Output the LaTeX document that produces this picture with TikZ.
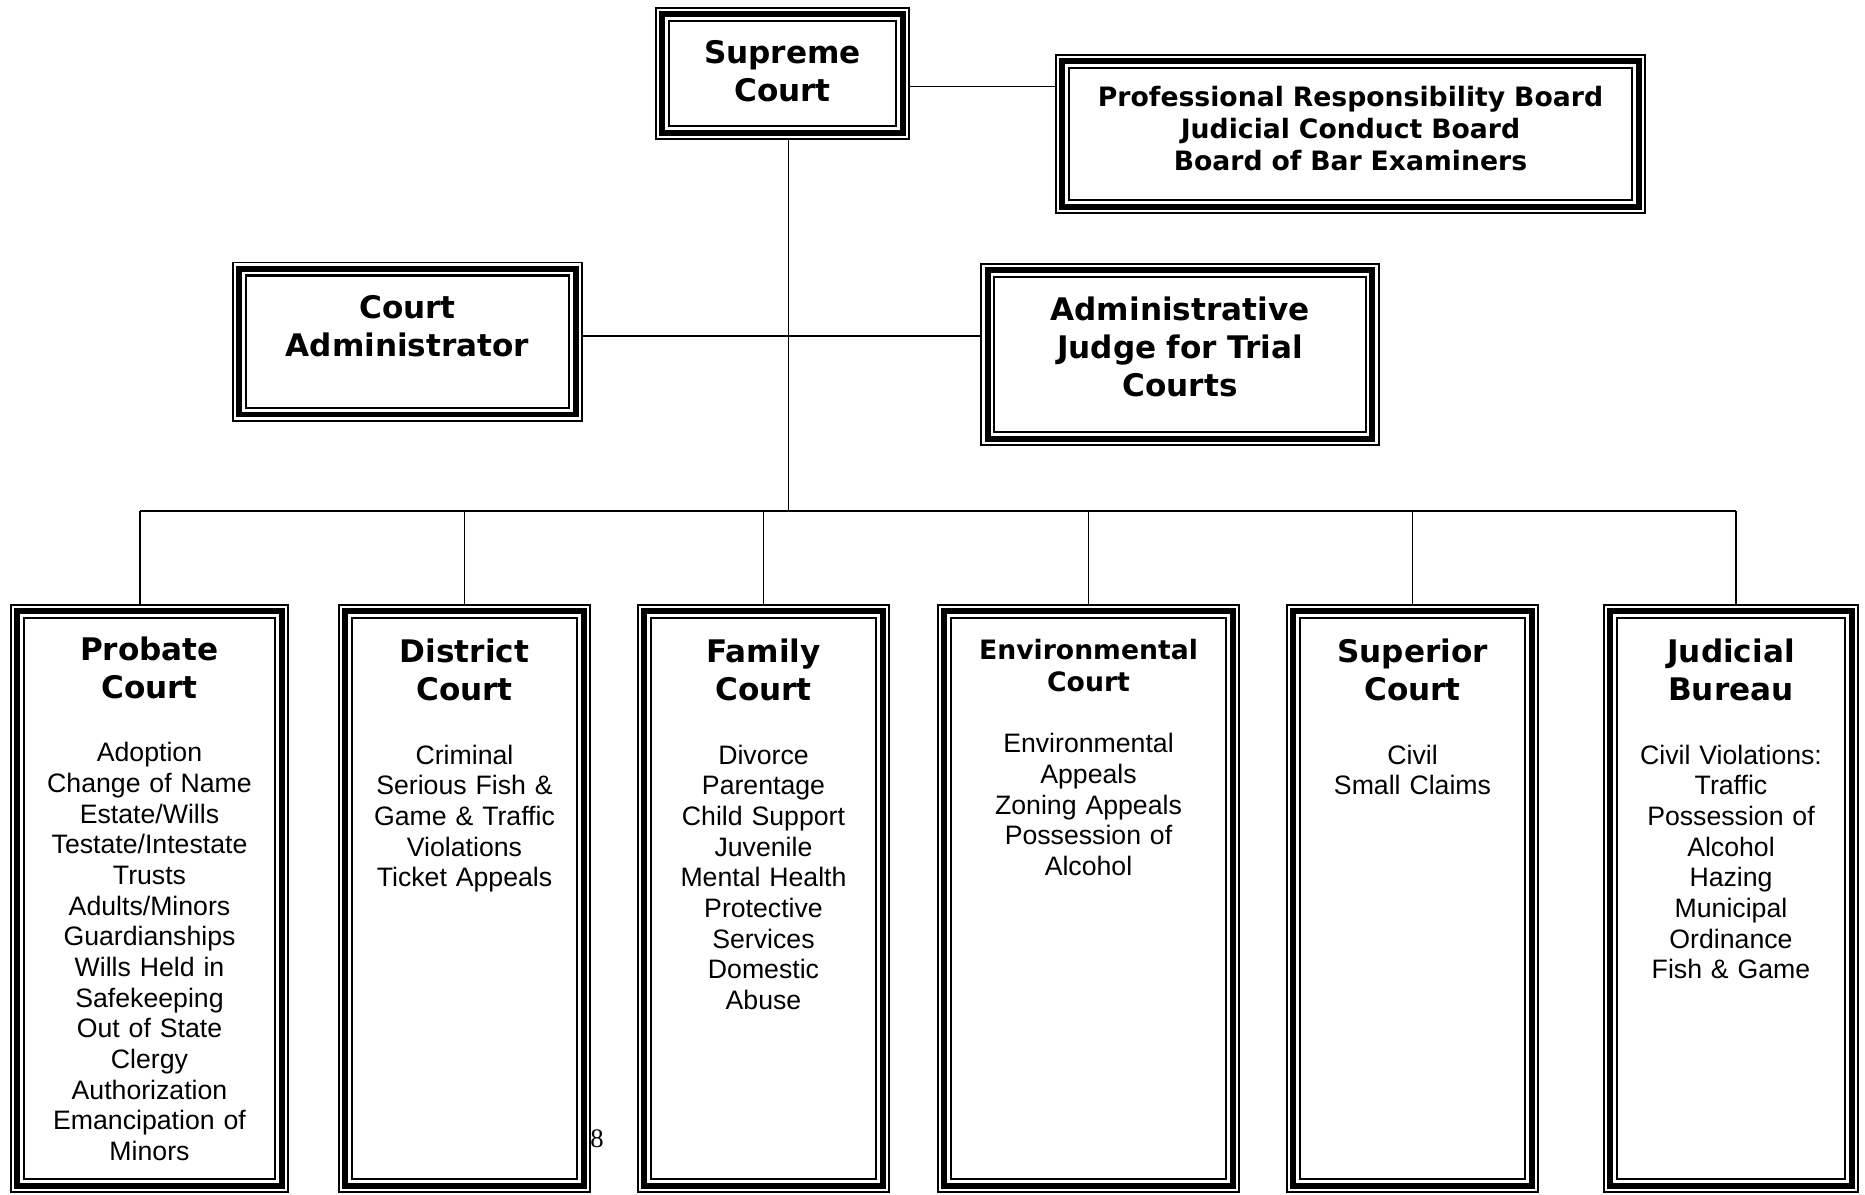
\documentclass[tikz,border=0pt]{standalone}
\usepackage{fontspec}
\setmainfont{Liberation Sans}
\newfontfamily\verdfont{DejaVu Sans}
\newfontfamily\timesfont{Liberation Serif}
\usetikzlibrary{positioning}
\newcommand\titlefnt{\verdfont\bfseries\fontsize{14}{17.2}\selectfont}
\newcommand\smalltitlefnt{\verdfont\bfseries\fontsize{12}{14.4}\selectfont}
\newcommand\bodyfnt{\fontsize{12}{13.8}\selectfont}

\begin{document}
\begin{tikzpicture}[x=0.45pt,y=-0.45pt]
  \tikzset{
    frame/.style 2 args={inner sep=0pt,outer sep=0pt,minimum width=#1*0.45pt,minimum height=#2*0.45pt},
    toptext/.style={inner sep=0pt,align=center,text width=#1},
    listtext/.style={anchor=north,inner sep=0pt,align=center,text width=110pt,font=\bodyfnt},
    link/.style={draw=black,line width=0.75pt}
  }
  \useasboundingbox (0,0) rectangle (1865,1194);
  % boxes of the upper part
  \node[frame={255}{133}] (supreme) at (782.5,73.5) {};
  \node[frame={591}{160}] (boards) at (1350.5,134) {};
  \node[frame={351}{160}] (courtadmin) at (407.5,341.7) {};
  \node[frame={399}{183}] (adminjudge) at (1180,354.5) {};
  \node[toptext=110pt,font=\titlefnt] (supreme-t) at (782.5,71.5) {Supreme\\Court};
  \node[toptext=250pt,font=\smalltitlefnt] (boards-t) at (1350.5,128.5) {Professional Responsibility Board\\Judicial Conduct Board\\Board of Bar Examiners};
  \node[toptext=140pt,font=\titlefnt] (courtadmin-t) at (407.5,326.5) {Court\\Administrator};
  \node[toptext=160pt,font=\titlefnt] (adminjudge-t) at (1180,347) {Administrative\\Judge for Trial\\Courts};
  % trial courts
  \node[frame={279}{589}] (probate) at (149.5,898.5) {};
  \node[frame={253}{589}] (district) at (464.5,898.5) {};
  \node[frame={253}{589}] (family) at (763.5,898.5) {};
  \node[frame={303}{589}] (environmental) at (1088.5,898.5) {};
  \node[frame={253}{589}] (superior) at (1412.5,898.5) {};
  \node[frame={256}{589}] (judicial) at (1731,898.5) {};
  \node[listtext,below=14.5pt of probate.north] (probate-t) {{\titlefnt Probate\\Court\par}\vspace{14.7pt}
    Adoption\\Change of Name\\Estate/Wills\\Testate/Intestate\\Trusts\\Adults/Minors\\Guardianships\\Wills Held in\\Safekeeping\\Out of State\\Clergy\\Authorization\\Emancipation of\\Minors};
  \node[listtext,below=15.5pt of district.north] (district-t) {{\titlefnt District\\Court\par}\vspace{14.7pt}
    Criminal\\Serious Fish \&\\Game \& Traffic\\Violations\\Ticket Appeals};
  \node[listtext,below=15.5pt of family.north] (family-t) {{\titlefnt Family\\Court\par}\vspace{14.7pt}
    Divorce\\Parentage\\Child Support\\Juvenile\\Mental Health\\Protective\\Services\\Domestic\\Abuse};
  \node[listtext,below=15.5pt of environmental.north] (environmental-t) {{\smalltitlefnt Environmental\\Court\par}\vspace{13.9pt}
    Environmental\\Appeals\\Zoning Appeals\\Possession of\\Alcohol};
  \node[listtext,below=15.5pt of superior.north] (superior-t) {{\titlefnt Superior\\Court\par}\vspace{14.7pt}
    Civil\\Small Claims};
  \node[listtext,below=15.5pt of judicial.north] (judicial-t) {{\titlefnt Judicial\\Bureau\par}\vspace{14.7pt}
    Civil Violations:\\Traffic\\Possession of\\Alcohol\\Hazing\\Municipal\\Ordinance\\Fish \& Game};
  % triple borders
  \foreach \n in {supreme,boards,courtadmin,adminjudge,probate,district,family,environmental,superior,judicial}
    \foreach \off/\lw in {0.8/0.77pt,7.3/2.57pt,13.8/1pt}
      \draw[line width=\lw] ([shift={(\off,\off)}]\n.north west) rectangle ([shift={(-\off,-\off)}]\n.south east);
  % connectors
  \coordinate (boardlink) at ([yshift=-5.85pt]supreme.east);
  \coordinate (adminlink) at ([yshift=2.6pt]courtadmin.east);
  \coordinate (trunk) at ([xshift=2.7pt]supreme.south);
  \coordinate (busL) at (140,511);
  \coordinate (busR) at (1736,511);
  \draw[link] (boardlink) -- (boardlink -| boards.west);
  \draw[link] (adminlink) -- (adminlink -| adminjudge.west);
  \draw[link] (trunk) -- (trunk |- busL);
  \draw[link] (busL) -- (busR);
  \draw[link] (busL) -- (busL |- probate.north);
  \draw[link] (busR) -- (busR |- judicial.north);
  \foreach \n in {district,family,environmental,superior}
    \draw[link] (\n.north |- busL) -- (\n.north);
  \node[font=\timesfont\fontsize{12}{14}\selectfont,inner sep=0pt] (pagenum) at (597,1139) {8};
\end{tikzpicture}
\end{document}
